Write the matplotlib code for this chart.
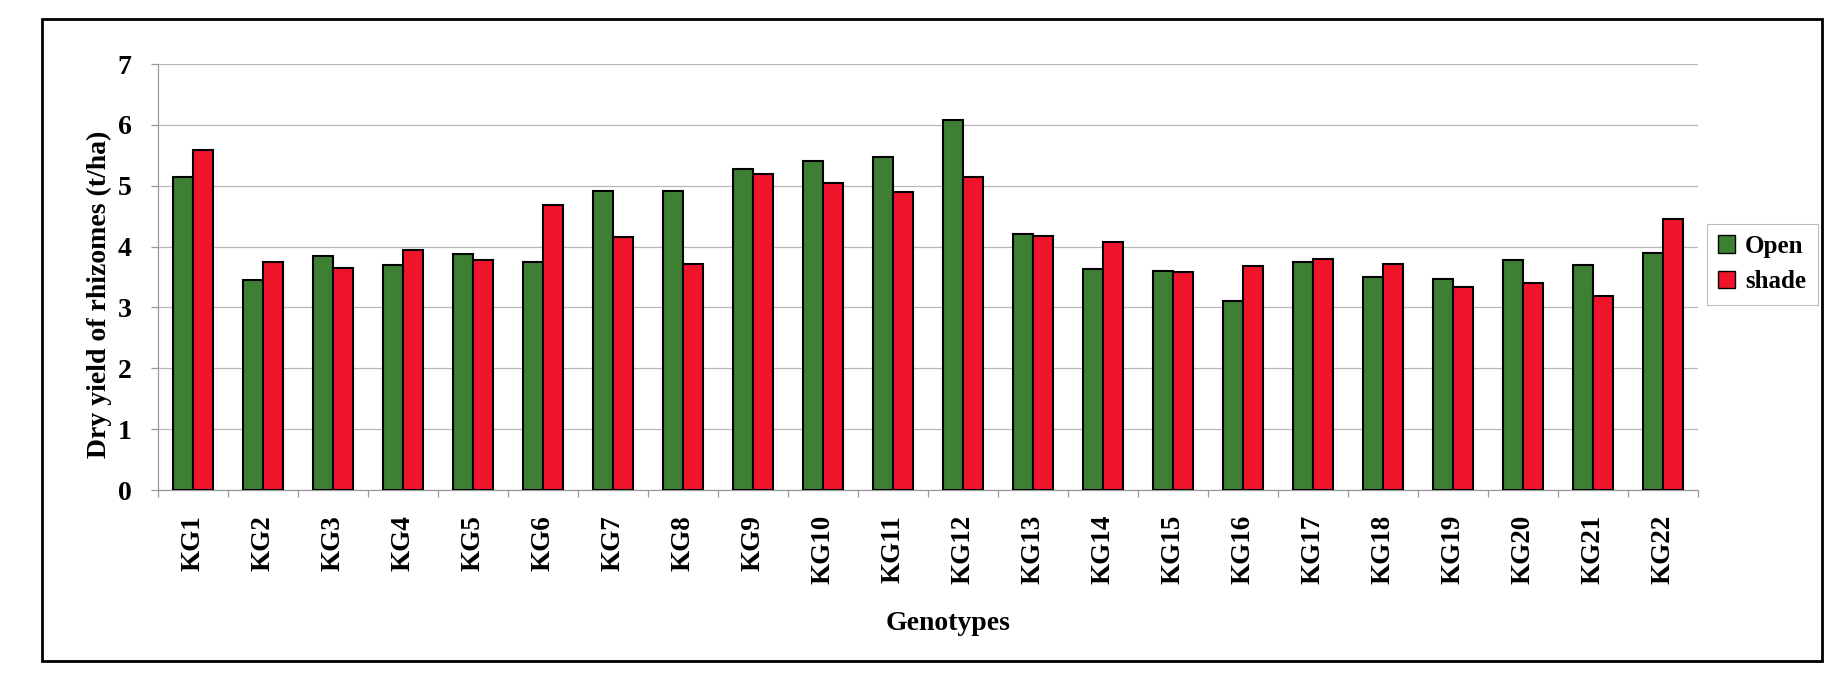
import matplotlib
matplotlib.use("Agg")
import matplotlib.pyplot as plt
import numpy as np
from matplotlib.patches import Rectangle

# Dry rhizome yield (t/ha) of 22 genotypes grown in the open and under shade
genotypes = ["KG1", "KG2", "KG3", "KG4", "KG5", "KG6", "KG7", "KG8", "KG9", "KG10", "KG11",
             "KG12", "KG13", "KG14", "KG15", "KG16", "KG17", "KG18", "KG19", "KG20", "KG21", "KG22"]
open_yield = [5.15, 3.45, 3.84, 3.70, 3.88, 3.75, 4.92, 4.92, 5.27, 5.40, 5.48,
              6.08, 4.21, 3.63, 3.60, 3.11, 3.75, 3.50, 3.46, 3.78, 3.69, 3.89]
shade_yield = [5.58, 3.74, 3.64, 3.95, 3.78, 4.68, 4.16, 3.71, 5.19, 5.05, 4.90,
               5.15, 4.18, 4.07, 3.58, 3.68, 3.79, 3.72, 3.33, 3.40, 3.18, 4.46]
series_names = ["Open", "shade"]
y_ticks = [0, 1, 2, 3, 4, 5, 6, 7]

GREEN = "#3d8033"
RED = "#f0142a"
SERIF = ["Liberation Serif", "DejaVu Serif"]

W, H = 1830, 688
fig = plt.figure(figsize=(W / 100, H / 100), dpi=100)
fig.patch.set_facecolor("white")

# plot area in pixel terms
left_px, right_px, top_px, base_px = 158, 1698, 64, 490
ax = fig.add_axes([left_px / W, 1 - base_px / H, (right_px - left_px) / W, (base_px - top_px) / H])

x = np.arange(len(genotypes))
bw = 0.29
ax.bar(x - bw / 2, open_yield, width=bw, color=GREEN, edgecolor="black", linewidth=1.5,
       label=series_names[0], zorder=3)
ax.bar(x + bw / 2, shade_yield, width=bw, color=RED, edgecolor="black", linewidth=1.5,
       label=series_names[1], zorder=3)

ax.set_xlim(-0.5, len(genotypes) - 0.5)
ax.set_ylim(0, 7)
ax.set_yticks(y_ticks)
ax.set_yticklabels([str(t) for t in y_ticks], fontfamily=SERIF, fontweight="bold", fontsize=20)
ax.yaxis.grid(True, color="#b8b8b8", linewidth=0.9, zorder=0)
ax.set_axisbelow(True)

ax.set_xticks(x)
ax.set_xticklabels(genotypes, rotation=90, fontfamily=SERIF, fontweight="bold",
                   fontsize=19.5, va="top", ha="center")
ax.set_xticks(np.arange(-0.5, len(genotypes), 1.0), minor=True)
ax.tick_params(axis="x", which="major", length=0, pad=18)
ax.tick_params(axis="x", which="minor", length=5, color="#999999", width=0.9, direction="out")
ax.tick_params(axis="y", which="major", length=5, color="#999999", width=0.9, pad=14)

for side in ["top", "right"]:
    ax.spines[side].set_visible(False)
for side in ["left", "bottom"]:
    ax.spines[side].set_color("#999999")
    ax.spines[side].set_linewidth(0.9)

ax.set_ylabel("Dry yield of rhizomes (t/ha)", fontfamily=SERIF, fontweight="bold", fontsize=20)
ax.yaxis.set_label_coords((112 - left_px) / (right_px - left_px), 0.46)

fig.text(948 / W, 1 - 624 / H, "Genotypes", fontfamily=SERIF, fontweight="bold",
         fontsize=20, ha="center", va="center")

leg = fig.legend(loc="center", bbox_to_anchor=(1762 / W, 1 - 264 / H),
                 prop={"family": SERIF, "weight": "bold", "size": 18},
                 handlelength=0.7, handleheight=0.7, handletextpad=0.4,
                 labelspacing=0.5, borderpad=0.45, frameon=True, fancybox=False)
leg.get_frame().set_edgecolor("#aaaaaa")
leg.get_frame().set_linewidth(0.8)
for h in leg.legend_handles:
    h.set_edgecolor("black")
    h.set_linewidth(1.0)

# outer chart border
fig.patches.append(Rectangle((42 / W, 1 - 661 / H), (1822 - 42) / W, (661 - 19) / H,
                             transform=fig.transFigure, fill=False, edgecolor="black",
                             linewidth=2.0))

fig.savefig("out.png", dpi=100, facecolor="white")
